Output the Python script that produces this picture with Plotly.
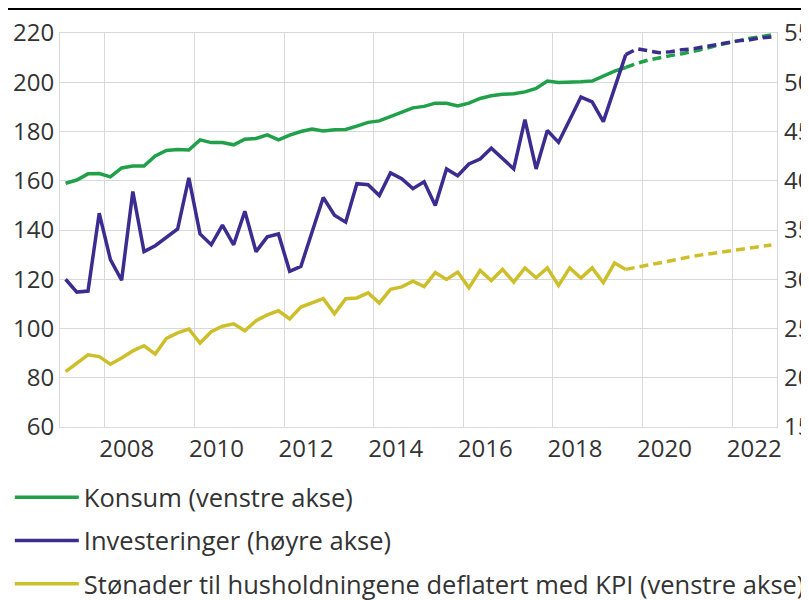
import plotly.graph_objects as go

# Quarterly data 2007Q1 - 2022Q4; history through 2019Q3, then projections
start_year = 2007
last_hist_index = 50  # 2019Q3 (last solid point)

konsum = [159.0, 160.3, 162.8, 162.9, 161.6, 165.2, 166.0, 166.0, 170.1, 172.3, 172.7, 172.5, 176.6, 175.5, 175.5, 174.6,
          176.9, 177.2, 178.6, 176.6, 178.5, 180.0, 181.0, 180.2, 180.7, 180.8, 182.2, 183.7, 184.3, 186.1, 188.0, 189.6,
          190.2, 191.5, 191.5, 190.4, 191.5, 193.4, 194.5, 195.1, 195.3, 196.1, 197.5, 200.5, 199.9, 199.9, 200.2, 200.5,
          202.5, 204.5, 206.0,
          207.7, 209.0, 210.0, 210.8, 211.6, 212.4, 213.5, 214.8, 215.9, 217.0, 217.8, 218.5, 219.2]

investeringer = [30.0, 28.7, 28.8, 36.7, 32.0, 29.9, 38.9, 32.8, 33.4, 34.2, 35.1, 40.3, 34.6, 33.5, 35.5, 33.5,
                 36.9, 32.8, 34.3, 34.6, 30.8, 31.3, 34.7, 38.3, 36.5, 35.8, 39.7, 39.6, 38.5, 40.8, 40.2, 39.2,
                 39.9, 37.5, 41.2, 40.5, 41.7, 42.2, 43.3, 42.2, 41.2, 46.2, 41.2, 45.1, 43.9, 46.2, 48.5, 48.0,
                 46.0, 49.4, 52.8,
                 53.4, 53.2, 53.0, 53.1, 53.3, 53.4, 53.6, 53.8, 54.0, 54.2, 54.3, 54.5, 54.6]

stonader = [82.5, 85.9, 89.3, 88.6, 85.5, 88.0, 90.9, 93.0, 89.6, 96.0, 98.2, 99.8, 94.1, 98.7, 100.9, 101.9,
            99.1, 103.2, 105.5, 107.2, 103.9, 108.7, 110.3, 112.1, 106.0, 112.1, 112.4, 114.5, 110.3, 115.9, 116.9, 119.2,
            117.0, 122.7, 119.9, 122.9, 116.5, 123.6, 119.5, 124.0, 118.9, 124.6, 120.6, 124.6, 117.5, 124.6, 120.5, 124.6,
            118.6, 126.6, 124.0,
            125.0, 125.8, 126.6, 127.4, 128.4, 129.4, 130.0, 130.7, 131.4, 132.0, 132.6, 133.2, 133.9]

x_tick_years = [2008, 2010, 2012, 2014, 2016, 2018, 2020, 2022]
left_ticks = [60, 80, 100, 120, 140, 160, 180, 200, 220]
right_ticks = [15, 20, 25, 30, 35, 40, 45, 50, 55]

names = ["Konsum (venstre akse)", "Investeringer (høyre akse)",
         "Stønader til husholdningene deflatert med KPI (venstre akse)"]
colors = ["#20a049", "#3d2c8f", "#cdbf2c"]

# position of each quarter: middle of the quarter on a year scale
x = [start_year + (i + 0.5) / 4 for i in range(len(konsum))]

fig = go.Figure()
series = [(konsum, "y"), (investeringer, "y2"), (stonader, "y")]
for k, ((vals, ax), name, col) in enumerate(zip(series, names, colors)):
    n = last_hist_index + 1
    fig.add_trace(go.Scatter(x=x[:n], y=vals[:n], mode="lines", name=name, yaxis=ax,
                             line=dict(color=col, width=3.5), legendgroup=f"g{k}"))
    fig.add_trace(go.Scatter(x=x[last_hist_index:], y=vals[last_hist_index:], mode="lines", yaxis=ax,
                             line=dict(color=col, width=3.5, dash="9px,5px"), showlegend=False,
                             legendgroup=f"g{k}"))

font_col = "#333333"
tick_size = 24
legend_size = 25.5
# page has an 8px body margin, so the figure is sized to fill the rest of the window
fig.update_layout(
    width=801, height=592,
    margin=dict(l=52, r=32, t=25, b=173, autoexpand=False),
    paper_bgcolor="white", plot_bgcolor="white",
    font=dict(family="Open Sans", size=tick_size, color=font_col),
    xaxis=dict(range=[2007, 2023], tickvals=x_tick_years, ticktext=[str(v) for v in x_tick_years],
               ticklabelshift=22, showgrid=True, gridcolor="#d9d9d9", gridwidth=1,
               showline=True, linecolor="#d9d9d9", linewidth=1, mirror=True, ticks="",
               zeroline=False, tickfont=dict(size=tick_size, color=font_col)),
    yaxis=dict(range=[60, 220], tickvals=left_ticks, showgrid=True, gridcolor="#d9d9d9", gridwidth=1,
               showline=True, linecolor="#d9d9d9", linewidth=1, mirror=True, ticks="",
               zeroline=False, tickfont=dict(size=tick_size, color=font_col)),
    yaxis2=dict(range=[15, 55], tickvals=right_ticks, overlaying="y", side="right", showgrid=False,
                ticks="", zeroline=False, ticklabelstandoff=6,
                tickfont=dict(size=tick_size, color=font_col)),
    legend=dict(x=-0.070, y=-0.120, xanchor="left", yanchor="top", orientation="v",
                font=dict(size=legend_size, color=font_col), itemwidth=64, tracegroupgap=7,
                bgcolor="rgba(0,0,0,0)"),
    showlegend=True,
)

# thin black rule at the very top of the figure
fig.add_shape(type="line", xref="paper", yref="paper", x0=-52 / 717, x1=1 + 32 / 717,
              y0=1 + 24 / 394, y1=1 + 24 / 394, line=dict(color="black", width=2))

fig.write_html("out.html")
